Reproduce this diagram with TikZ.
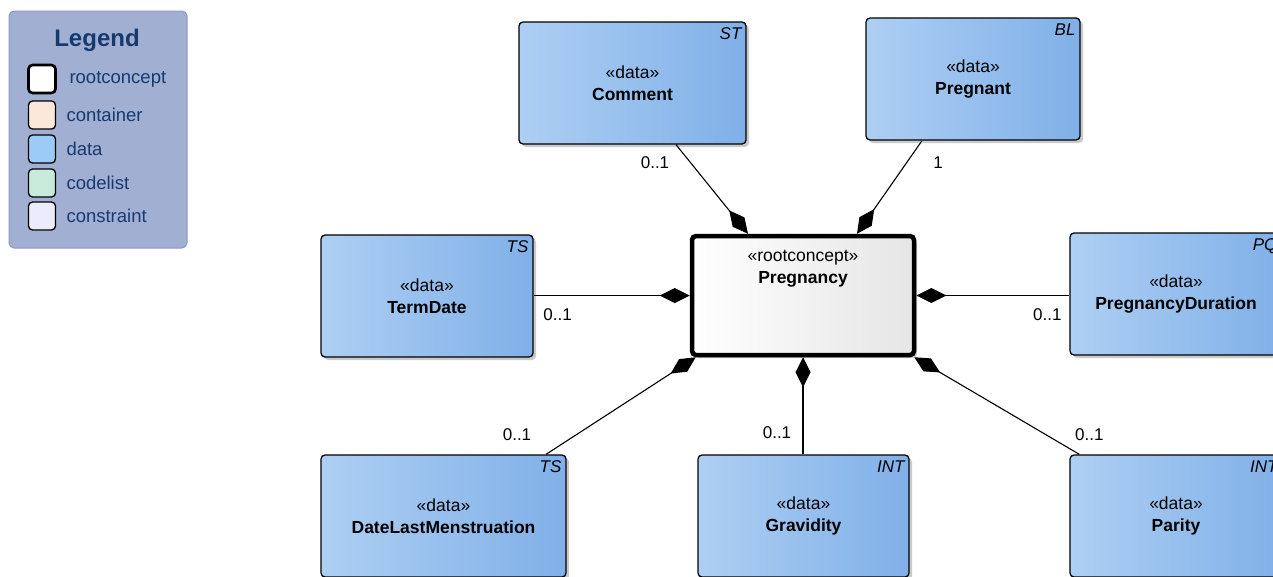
\documentclass[tikz,border=0pt]{standalone}
\usepackage{fontspec}
\setmainfont{Liberation Sans}
\usetikzlibrary{arrows.meta,shadows,positioning}

\definecolor{dataL}{RGB}{174,207,243}
\definecolor{dataR}{RGB}{128,176,232}
\definecolor{legbg}{RGB}{161,175,210}
\definecolor{legline}{RGB}{140,155,196}
\definecolor{legtext}{RGB}{22,58,110}
\definecolor{contfill}{RGB}{251,232,218}
\definecolor{datafill}{RGB}{156,203,248}
\definecolor{codefill}{RGB}{200,234,219}
\definecolor{consfill}{RGB}{235,235,251}

\tikzset{
  databox/.style={draw=black, line width=1.3pt, rounded corners=4pt,
    left color=dataL, right color=dataR, minimum width=#1, minimum height=122pt,
    align=center, font=\fontsize{17.5}{22}\selectfont,
    drop shadow={shadow xshift=3pt, shadow yshift=-3pt, fill=black!35, opacity=.6}},
  rootbox/.style={draw=black, line width=4.5pt, rounded corners=4pt,
    left color=white, right color=black!10, minimum width=222pt, minimum height=119pt,
    drop shadow={shadow xshift=3pt, shadow yshift=-3pt, fill=black!35, opacity=.6}},
  typetag/.style={font=\fontsize{17}{18}\selectfont\itshape, inner sep=1pt, anchor=north east},
  comp/.style={line width=1.1pt, {Diamond[length=30pt,width=15pt]}-},
  mult/.style={font=\fontsize{17}{18}\selectfont},
  legsq/.style={draw=black, line width=1.3pt, rounded corners=4pt, minimum width=27pt, minimum height=28pt},
  legtxt/.style={font=\fontsize{18.5}{20}\selectfont, text=legtext, anchor=west}
}

\begin{document}
\begin{tikzpicture}[x=1pt, y=-1pt]

    \useasboundingbox (0,0) rectangle (1273,576);
    \clip (0,0) rectangle (1273,576);

    % legend
    \node[draw=legline, fill=legbg, line width=1pt, rounded corners=5pt,
      minimum width=178pt, minimum height=237pt] (legend) at (98,129.5) {};
    \node[font=\fontsize{24}{26}\selectfont\bfseries, text=legtext] (legtitle) at (97,40) {Legend};
    \node[legsq, fill=white, line width=2.6pt] (sqroot) at (42,79) {};
    \node[legsq, fill=contfill] (sqcont) at (42,115) {};
    \node[legsq, fill=datafill] (sqdata) at (42,149) {};
    \node[legsq, fill=codefill] (sqcode) at (42,183) {};
    \node[legsq, fill=consfill] (sqcons) at (42,216) {};
    \node[legtxt] at (66,79) {rootconcept};
    \node[legtxt] at (63,115) {container};
    \node[legtxt] at (63,149) {data};
    \node[legtxt] at (63,183) {codelist};
    \node[legtxt] at (63,216) {constraint};

    % classes
    \node[databox=227pt] (comment) at (632.5,83) {«data»\\\textbf{Comment}};
    \node[databox=214pt] (pregnant) at (973,79) {«data»\\\textbf{Pregnant}};
    \node[databox=212pt] (termdate) at (427,296) {«data»\\\textbf{TermDate}};
    \node[databox=212pt] (duration) at (1176,294) {«data»\\\textbf{PregnancyDuration}};
    \node[databox=245pt] (lastmens) at (443.5,516) {«data»\\\textbf{DateLastMenstruation}};
    \node[databox=211pt] (gravidity) at (803.5,516) {«data»\\\textbf{Gravidity}};
    \node[databox=212pt] (parity) at (1176,516) {«data»\\\textbf{Parity}};

    \node[typetag] at ([shift={(-4,5)}]comment.north east) {ST};
    \node[typetag] at ([shift={(-4,5)}]pregnant.north east) {BL};
    \node[typetag] at ([shift={(-4,5)}]termdate.north east) {TS};
    \node[typetag] at ([shift={(-4,5)}]duration.north east) {PQ};
    \node[typetag] at ([shift={(-4,5)}]lastmens.north east) {TS};
    \node[typetag] at ([shift={(-4,5)}]gravidity.north east) {INT};
    \node[typetag] at ([shift={(-4,5)}]parity.north east) {INT};

    % root concept
    \node[rootbox] (root) at (803,295.5) {};
    \node[below=13pt of root.north, align=center, font=\fontsize{17.5}{22}\selectfont]
      (roottext) {«rootconcept»\\\textbf{Pregnancy}};

    % compositions
    \draw[comp] ([xshift=-55pt]root.north) -- ([xshift=43.5pt]comment.south)
      node[mult, pos=1, shift={(-21,18)}] {0..1};
    \draw[comp] ([xshift=54pt]root.north) -- ([xshift=-51pt]pregnant.south)
      node[mult, pos=1, shift={(16,22)}] {1};
    \draw[comp] (root.west) -- (root.west -| termdate.east)
      node[mult, pos=1, shift={(24,19)}] {0..1};
    \draw[comp] (root.east) -- (root.east -| duration.west)
      node[mult, pos=1, shift={(-22,19)}] {0..1};
    \draw[comp] ([xshift=6pt]root.south west) -- ([xshift=102.5pt]lastmens.north)
      node[mult, pos=1, shift={(-29,-20)}] {0..1};
    \draw[comp] (root.south) -- (root.south |- gravidity.north)
      node[mult, pos=1, shift={(-26,-22)}] {0..1};
    \draw[comp] ([xshift=-2pt]root.south east) -- ([xshift=10pt]parity.north west)
      node[mult, pos=1, shift={(10,-20)}] {0..1};

\end{tikzpicture}
\end{document}
